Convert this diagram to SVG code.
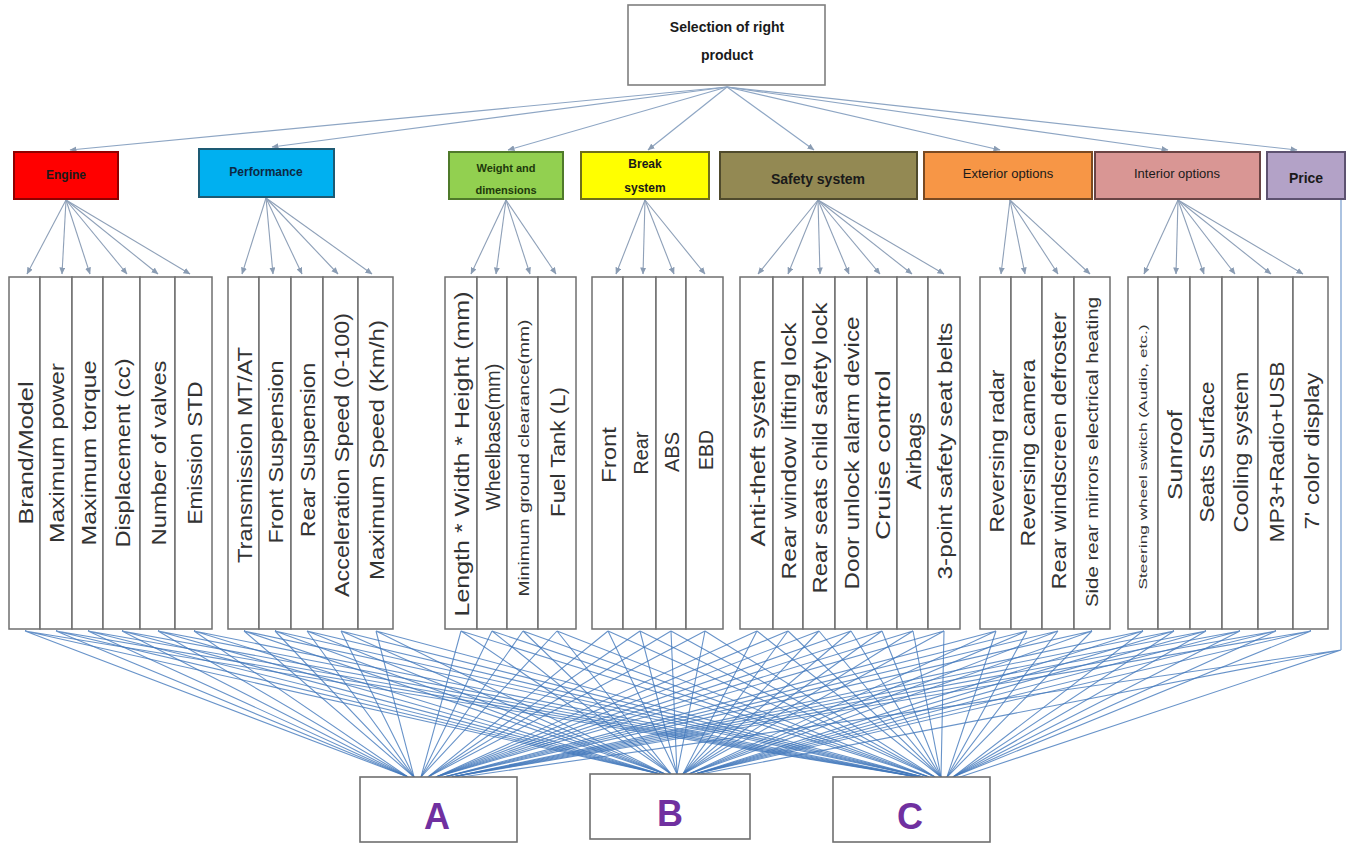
<svg xmlns="http://www.w3.org/2000/svg" width="1346" height="845" viewBox="0 0 1346 845">
<defs>
<marker id="arr" markerWidth="7" markerHeight="6" refX="6.5" refY="3" orient="auto" markerUnits="userSpaceOnUse">
<path d="M0,0 L7,3 L0,6 z" fill="#8a9cb3"/>
</marker>
<style>
.top{fill:#fff;stroke:#7f7f7f;stroke-width:1.6}
.crit{stroke-width:2}
.ct{font-family:"Liberation Sans",Arial,sans-serif;font-weight:bold;font-size:12px;fill:#1a1a1a;text-anchor:middle;dominant-baseline:central}
.sub{fill:#fff;stroke:#6f6f6f;stroke-width:1.5}
.st{font-family:"Liberation Sans",Arial,sans-serif;font-size:21px;fill:#333;text-anchor:middle;dominant-baseline:central}
.alt{fill:#fff;stroke:#6f6f6f;stroke-width:1.6}
.at{font-family:"Liberation Sans",Arial,sans-serif;font-weight:bold;font-size:36px;fill:#7030a0;text-anchor:middle}
.c1{fill:none;stroke:#8ea6c4;stroke-width:1.2}
.c2{fill:none;stroke:#8ea0b8;stroke-width:1.1}
.c3{fill:none;stroke:#4278bb;stroke-width:1.1;stroke-opacity:0.8}
</style>
</defs>
<rect width="1346" height="845" fill="#fff"/>

<g id="connectors">
<g id="top-links" class="c1" marker-end="url(#arr)">
<line x1="727" y1="87" x2="70" y2="150"/>
<line x1="727" y1="87" x2="272" y2="147"/>
<line x1="727" y1="87" x2="508" y2="150"/>
<line x1="727" y1="87" x2="648" y2="150"/>
<line x1="727" y1="87" x2="814" y2="150"/>
<line x1="727" y1="87" x2="1000" y2="150"/>
<line x1="727" y1="87" x2="1168" y2="150"/>
<line x1="727" y1="87" x2="1297" y2="150"/>
</g>
<g id="fan-links" class="c2" marker-end="url(#arr)">
<line x1="66" y1="200" x2="27" y2="274"/>
<line x1="66" y1="200" x2="62" y2="274"/>
<line x1="66" y1="200" x2="90" y2="274"/>
<line x1="66" y1="200" x2="127" y2="274"/>
<line x1="66" y1="200" x2="158" y2="274"/>
<line x1="66" y1="200" x2="190" y2="274"/>
<line x1="266" y1="198" x2="242" y2="274"/>
<line x1="266" y1="198" x2="273" y2="274"/>
<line x1="266" y1="198" x2="302" y2="274"/>
<line x1="266" y1="198" x2="338" y2="274"/>
<line x1="266" y1="198" x2="372" y2="274"/>
<line x1="506" y1="200" x2="471" y2="274"/>
<line x1="506" y1="200" x2="496" y2="274"/>
<line x1="506" y1="200" x2="530" y2="274"/>
<line x1="506" y1="200" x2="556" y2="274"/>
<line x1="645" y1="200" x2="616" y2="274"/>
<line x1="645" y1="200" x2="643" y2="274"/>
<line x1="645" y1="200" x2="674" y2="274"/>
<line x1="645" y1="200" x2="705" y2="274"/>
<line x1="818" y1="200" x2="758" y2="274"/>
<line x1="818" y1="200" x2="788" y2="274"/>
<line x1="818" y1="200" x2="820" y2="274"/>
<line x1="818" y1="200" x2="849" y2="274"/>
<line x1="818" y1="200" x2="880" y2="274"/>
<line x1="818" y1="200" x2="912" y2="274"/>
<line x1="818" y1="200" x2="944" y2="274"/>
<line x1="1010" y1="200" x2="1001" y2="274"/>
<line x1="1010" y1="200" x2="1025" y2="274"/>
<line x1="1010" y1="200" x2="1058" y2="274"/>
<line x1="1010" y1="200" x2="1090" y2="274"/>
<line x1="1178" y1="200" x2="1144" y2="274"/>
<line x1="1178" y1="200" x2="1176" y2="274"/>
<line x1="1178" y1="200" x2="1204" y2="274"/>
<line x1="1178" y1="200" x2="1235" y2="274"/>
<line x1="1178" y1="200" x2="1271" y2="274"/>
<line x1="1178" y1="200" x2="1303" y2="274"/>
</g>
<g id="alt-links" class="c3">
<path d="M25 631L408 777M25 631L660 774M25 631L918 777"/>
<path d="M56 631L408 777M56 631L660 774M56 631L918 777"/>
<path d="M88 631L408 777M88 631L660 774M88 631L918 777"/>
<path d="M122 631L408 777M122 631L660 774M122 631L918 777"/>
<path d="M158 631L408 777M158 631L660 774M158 631L918 777"/>
<path d="M194 631L408 777M194 631L660 774M194 631L918 777"/>
<path d="M244 631L414 777M244 631L665 774M244 631L923 777"/>
<path d="M275 631L414 777M275 631L665 774M275 631L923 777"/>
<path d="M307 631L414 777M307 631L665 774M307 631L923 777"/>
<path d="M341 631L414 777M341 631L665 774M341 631L923 777"/>
<path d="M376 631L414 777M376 631L665 774M376 631L923 777"/>
<path d="M461 631L421 777M461 631L671 774M461 631L929 777"/>
<path d="M492 631L421 777M492 631L671 774M492 631L929 777"/>
<path d="M523 631L421 777M523 631L671 774M523 631L929 777"/>
<path d="M557 631L421 777M557 631L671 774M557 631L929 777"/>
<path d="M608 631L428 777M608 631L677 774M608 631L935 777"/>
<path d="M640 631L428 777M640 631L677 774M640 631L935 777"/>
<path d="M671 631L428 777M671 631L677 774M671 631L935 777"/>
<path d="M705 631L428 777M705 631L677 774M705 631L935 777"/>
<path d="M757 631L436 777M757 631L683 774M757 631L941 777"/>
<path d="M788 631L436 777M788 631L683 774M788 631L941 777"/>
<path d="M819 631L436 777M819 631L683 774M819 631L941 777"/>
<path d="M851 631L436 777M851 631L683 774M851 631L941 777"/>
<path d="M882 631L436 777M882 631L683 774M882 631L941 777"/>
<path d="M913 631L436 777M913 631L683 774M913 631L941 777"/>
<path d="M944 631L436 777M944 631L683 774M944 631L941 777"/>
<path d="M996 631L444 777M996 631L689 774M996 631L947 777"/>
<path d="M1027 631L444 777M1027 631L689 774M1027 631L947 777"/>
<path d="M1058 631L444 777M1058 631L689 774M1058 631L947 777"/>
<path d="M1092 631L444 777M1092 631L689 774M1092 631L947 777"/>
<path d="M1143 631L452 777M1143 631L695 774M1143 631L953 777"/>
<path d="M1174 631L452 777M1174 631L695 774M1174 631L953 777"/>
<path d="M1206 631L452 777M1206 631L695 774M1206 631L953 777"/>
<path d="M1240 631L452 777M1240 631L695 774M1240 631L953 777"/>
<path d="M1276 631L452 777M1276 631L695 774M1276 631L953 777"/>
<path d="M1311 631L452 777M1311 631L695 774M1311 631L953 777"/>
<path d="M1341 199L1341 650M1341 650L462 777M1341 650L701 774M1341 650L960 777"/>
</g>
</g>

<g id="goal">
<rect class="top" x="628" y="5" width="197" height="80"/>
<text class="ct" x="727" y="27" style="font-size:14px">Selection of right</text>
<text class="ct" x="727" y="55" style="font-size:14px">product</text>
</g>

<g id="c-engine"><rect class="crit" x="14" y="152" width="104" height="47" fill="#ff0000" stroke="#8f0000"/><text class="ct" x="66" y="175" fill="#3a0000">Engine</text></g>
<g id="c-performance"><rect class="crit" x="199" y="149" width="135" height="48" fill="#00b0f0" stroke="#1d5a73"/><text class="ct" x="266" y="172" style="fill:#0d2a44">Performance</text></g>
<g id="c-weight"><rect class="crit" x="449" y="152" width="114" height="47" fill="#92d050" stroke="#4f7a2a"/><text class="ct" x="506" y="168" style="font-size:11px;fill:#1e3a0c">Weight and</text><text class="ct" x="506" y="190" style="font-size:11px;fill:#1e3a0c">dimensions</text></g>
<g id="c-break"><rect class="crit" x="581" y="152" width="128" height="47" fill="#ffff00" stroke="#6f6f1a"/><text class="ct" x="645" y="164">Break</text><text class="ct" x="645" y="188">system</text></g>
<g id="c-safety"><rect class="crit" x="720" y="152" width="197" height="47" fill="#938953" stroke="#4f4a2c"/><text class="ct" x="818" y="179" style="font-size:14px">Safety system</text></g>
<g id="c-exterior"><rect class="crit" x="924" y="152" width="168" height="47" fill="#f79646" stroke="#7a4a22"/><text class="ct" x="1008" y="173" style="font-size:13px;font-weight:normal">Exterior options</text></g>
<g id="c-interior"><rect class="crit" x="1095" y="152" width="165" height="47" fill="#d99694" stroke="#6a4444"/><text class="ct" x="1177" y="173" style="font-size:13px;font-weight:normal">Interior options</text></g>
<g id="c-price"><rect class="crit" x="1267" y="152" width="78" height="47" fill="#b3a2c7" stroke="#5d5270"/><text class="ct" x="1306" y="178" style="font-size:14px">Price</text></g>

<g id="s-brand"><rect class="sub" x="9" y="277" width="31" height="352"/><text class="st" transform="translate(25,453) rotate(-90)" textLength="143" lengthAdjust="spacingAndGlyphs">Brand/Model</text></g>
<g id="s-power"><rect class="sub" x="40" y="277" width="32" height="352"/><text class="st" transform="translate(56,453) rotate(-90)" textLength="180" lengthAdjust="spacingAndGlyphs">Maximum power</text></g>
<g id="s-torque"><rect class="sub" x="72" y="277" width="31" height="352"/><text class="st" transform="translate(88,453) rotate(-90)" textLength="185" lengthAdjust="spacingAndGlyphs">Maximum torque</text></g>
<g id="s-displacement"><rect class="sub" x="103" y="277" width="37" height="352"/><text class="st" transform="translate(122,453) rotate(-90)" textLength="189" lengthAdjust="spacingAndGlyphs">Displacement (cc)</text></g>
<g id="s-valves"><rect class="sub" x="140" y="277" width="35" height="352"/><text class="st" transform="translate(158,453) rotate(-90)" textLength="185" lengthAdjust="spacingAndGlyphs">Number of valves</text></g>
<g id="s-emission"><rect class="sub" x="175" y="277" width="37" height="352"/><text class="st" transform="translate(194,453) rotate(-90)" textLength="143" lengthAdjust="spacingAndGlyphs">Emission STD</text></g>

<g id="s-transmission"><rect class="sub" x="228" y="277" width="31" height="352"/><text class="st" transform="translate(244,455) rotate(-90)" textLength="216" lengthAdjust="spacingAndGlyphs">Transmission MT/AT</text></g>
<g id="s-frontsusp"><rect class="sub" x="259" y="277" width="32" height="352"/><text class="st" transform="translate(275,452) rotate(-90)" textLength="183" lengthAdjust="spacingAndGlyphs">Front Suspension</text></g>
<g id="s-rearsusp"><rect class="sub" x="291" y="277" width="32" height="352"/><text class="st" transform="translate(307,450) rotate(-90)" textLength="174" lengthAdjust="spacingAndGlyphs">Rear Suspension</text></g>
<g id="s-accel"><rect class="sub" x="323" y="277" width="35" height="352"/><text class="st" transform="translate(341,455) rotate(-90)" textLength="284" lengthAdjust="spacingAndGlyphs">Acceleration Speed (0-100)</text></g>
<g id="s-maxspeed"><rect class="sub" x="358" y="277" width="35" height="352"/><text class="st" transform="translate(376,450) rotate(-90)" textLength="260" lengthAdjust="spacingAndGlyphs">Maximum Speed (Km/h)</text></g>

<g id="s-lwh"><rect class="sub" x="445" y="277" width="32" height="352"/><text class="st" transform="translate(461,454) rotate(-90)" textLength="325" lengthAdjust="spacingAndGlyphs">Length * Width * Height (mm)</text></g>
<g id="s-wheelbase"><rect class="sub" x="477" y="277" width="30" height="352"/><text class="st" transform="translate(492,437) rotate(-90)" textLength="147" lengthAdjust="spacingAndGlyphs">Wheelbase(mm)</text></g>
<g id="s-clearance"><rect class="sub" x="507" y="277" width="31" height="352"/><text class="st" transform="translate(523,458) rotate(-90)" textLength="277" lengthAdjust="spacingAndGlyphs" style="font-size:15px">Minimum ground clearance(mm)</text></g>
<g id="s-fuel"><rect class="sub" x="538" y="277" width="38" height="352"/><text class="st" transform="translate(557,452) rotate(-90)" textLength="130" lengthAdjust="spacingAndGlyphs">Fuel Tank (L)</text></g>

<g id="s-front"><rect class="sub" x="592" y="277" width="31" height="352"/><text class="st" transform="translate(608,455) rotate(-90)" textLength="56" lengthAdjust="spacingAndGlyphs">Front</text></g>
<g id="s-rear"><rect class="sub" x="623" y="277" width="33" height="352"/><text class="st" transform="translate(640,453) rotate(-90)" textLength="43" lengthAdjust="spacingAndGlyphs">Rear</text></g>
<g id="s-abs"><rect class="sub" x="656" y="277" width="30" height="352"/><text class="st" transform="translate(671,452) rotate(-90)" textLength="40" lengthAdjust="spacingAndGlyphs">ABS</text></g>
<g id="s-ebd"><rect class="sub" x="686" y="277" width="37" height="352"/><text class="st" transform="translate(705,450) rotate(-90)" textLength="40" lengthAdjust="spacingAndGlyphs">EBD</text></g>

<g id="s-antitheft"><rect class="sub" x="740" y="277" width="33" height="352"/><text class="st" transform="translate(757,453) rotate(-90)" textLength="187" lengthAdjust="spacingAndGlyphs">Anti-theft system</text></g>
<g id="s-window"><rect class="sub" x="773" y="277" width="30" height="352"/><text class="st" transform="translate(788,451) rotate(-90)" textLength="257" lengthAdjust="spacingAndGlyphs">Rear window lifting lock</text></g>
<g id="s-childlock"><rect class="sub" x="803" y="277" width="32" height="352"/><text class="st" transform="translate(819,448) rotate(-90)" textLength="291" lengthAdjust="spacingAndGlyphs">Rear seats child safety lock</text></g>
<g id="s-doorunlock"><rect class="sub" x="835" y="277" width="32" height="352"/><text class="st" transform="translate(851,453) rotate(-90)" textLength="273" lengthAdjust="spacingAndGlyphs">Door unlock alarm device</text></g>
<g id="s-cruise"><rect class="sub" x="867" y="277" width="30" height="352"/><text class="st" transform="translate(882,455) rotate(-90)" textLength="170" lengthAdjust="spacingAndGlyphs">Cruise control</text></g>
<g id="s-airbags"><rect class="sub" x="897" y="277" width="31" height="352"/><text class="st" transform="translate(913,451) rotate(-90)" textLength="77" lengthAdjust="spacingAndGlyphs">Airbags</text></g>
<g id="s-seatbelts"><rect class="sub" x="928" y="277" width="32" height="352"/><text class="st" transform="translate(944,451) rotate(-90)" textLength="257" lengthAdjust="spacingAndGlyphs">3-point safety seat belts</text></g>

<g id="s-radar"><rect class="sub" x="980" y="277" width="31" height="352"/><text class="st" transform="translate(996,451) rotate(-90)" textLength="163" lengthAdjust="spacingAndGlyphs">Reversing radar</text></g>
<g id="s-camera"><rect class="sub" x="1011" y="277" width="31" height="352"/><text class="st" transform="translate(1027,453) rotate(-90)" textLength="187" lengthAdjust="spacingAndGlyphs">Reversing camera</text></g>
<g id="s-defroster"><rect class="sub" x="1042" y="277" width="32" height="352"/><text class="st" transform="translate(1058,451) rotate(-90)" textLength="277" lengthAdjust="spacingAndGlyphs">Rear windscreen defroster</text></g>
<g id="s-mirrors"><rect class="sub" x="1074" y="277" width="36" height="352"/><text class="st" transform="translate(1092,452) rotate(-90)" textLength="310" lengthAdjust="spacingAndGlyphs" style="font-size:17px">Side rear mirrors electrical heating</text></g>

<g id="s-steering"><rect class="sub" x="1128" y="277" width="30" height="352"/><text class="st" transform="translate(1143,457) rotate(-90)" textLength="265" lengthAdjust="spacingAndGlyphs" style="font-size:11px">Steering wheel switch (Audio, etc.)</text></g>
<g id="s-sunroof"><rect class="sub" x="1158" y="277" width="32" height="352"/><text class="st" transform="translate(1174,455) rotate(-90)" textLength="90" lengthAdjust="spacingAndGlyphs">Sunroof</text></g>
<g id="s-seats"><rect class="sub" x="1190" y="277" width="32" height="352"/><text class="st" transform="translate(1206,452) rotate(-90)" textLength="141" lengthAdjust="spacingAndGlyphs">Seats Surface</text></g>
<g id="s-cooling"><rect class="sub" x="1222" y="277" width="36" height="352"/><text class="st" transform="translate(1240,452) rotate(-90)" textLength="161" lengthAdjust="spacingAndGlyphs">Cooling system</text></g>
<g id="s-mp3"><rect class="sub" x="1258" y="277" width="35" height="352"/><text class="st" transform="translate(1276,452) rotate(-90)" textLength="181" lengthAdjust="spacingAndGlyphs">MP3+Radio+USB</text></g>
<g id="s-display"><rect class="sub" x="1293" y="277" width="35" height="352"/><text class="st" transform="translate(1311,451) rotate(-90)" textLength="157" lengthAdjust="spacingAndGlyphs">7' color display</text></g>

<g id="alt-a"><rect class="alt" x="360" y="777" width="157" height="65"/><text class="at" x="437" y="829">A</text></g>
<g id="alt-b"><rect class="alt" x="590" y="774" width="160" height="65"/><text class="at" x="670" y="826">B</text></g>
<g id="alt-c"><rect class="alt" x="833" y="777" width="157" height="65"/><text class="at" x="910" y="829">C</text></g>
</svg>
